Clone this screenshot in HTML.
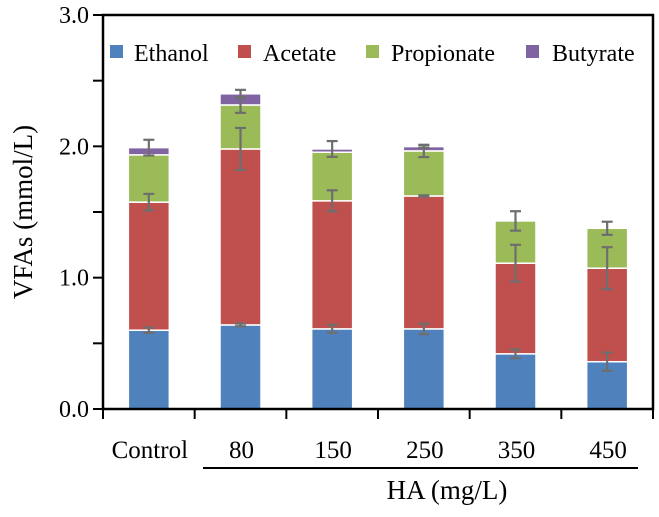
<!DOCTYPE html>
<html><head><meta charset="utf-8"><style>
html,body{margin:0;padding:0;background:#fff;}
svg{display:block;}
svg text{font-family:"Liberation Serif","Times New Roman","DejaVu Serif",serif;}
</style></head><body>
<svg id="chart" width="659" height="517" viewBox="0 0 659 517" style="position:absolute;left:0;top:0"></svg>
<script>
const categories = ["Control","80","150","250","350","450"];
const seriesNames = ["Ethanol","Acetate","Propionate","Butyrate"];
const ethanol = [0.60,0.64,0.61,0.61,0.42,0.36];
const acetate = [0.975,1.34,0.975,1.012,0.69,0.712];
const propionate = [0.36,0.335,0.37,0.343,0.322,0.304];
const butyrate = [0.055,0.085,0.025,0.033,0,0];
const ethanolErr = [0.02,0.01,0.03,0.04,0.033,0.07];
const acetateErr = [0.063,0.16,0.08,0.005,0.14,0.16];
const propionateErr = [0,0.06,0,0.047,0.074,0.05];
const butyrateErr = [0.06,0.03,0.06,0.01,0,0];
const yTicks = [0,0.5,1,1.5,2,2.5,3];
const yLabels = ["0.0","","1.0","","2.0","","3.0"];

const colors = ["#4f81bd","#c0504d","#9bbb59","#8064a2"];
const series = [ethanol,acetate,propionate,butyrate];
const errs = [ethanolErr,acetateErr,propionateErr,butyrateErr];
const X0=103, X1=653, Y0=409, Y1=15, YMAX=3;
const bandW=(X1-X0)/categories.length, barW=41;
const y = v => Y0 - v/YMAX*(Y0-Y1);
const xc = i => X0 + bandW*(i+0.5);
const svg=document.getElementById('chart');
const NS='http://www.w3.org/2000/svg';
function mk(tag,attrs,parent){const e=document.createElementNS(NS,tag);for(const k in attrs)e.setAttribute(k,attrs[k]);(parent||svg).appendChild(e);return e;}

categories.forEach((c,i)=>{
  let cum=0;
  series.forEach((s,k)=>{
    const v=s[i]; if(v<=0){return;}
    const r=mk('rect',{x:xc(i)-barW/2,y:y(cum+v),width:barW,height:y(cum)-y(cum+v),fill:colors[k],stroke:'#fff','stroke-width':1.5});
    
    
    cum+=v;
  });
});
categories.forEach((c,i)=>{
  let cum=0;
  series.forEach((s,k)=>{
    cum+=s[i];
    const e=errs[k][i]; if(e<=0||s[i]<=0)return;
    const g=mk('g',{stroke:'#6e6e6e','stroke-width':2.2});
    
    
    const x=xc(i);
    mk('line',{x1:x,x2:x,y1:y(cum-e),y2:y(cum+e)},g);
    mk('line',{x1:x-5.5,x2:x+5.5,y1:y(cum-e),y2:y(cum-e)},g);
    mk('line',{x1:x-5.5,x2:x+5.5,y1:y(cum+e),y2:y(cum+e)},g);
  });
});
const fr=mk('rect',{x:X0,y:Y1,width:X1-X0,height:Y0-Y1,fill:'none',stroke:'#000','stroke-width':2.5});


yTicks.forEach((t,j)=>{
  mk('line',{x1:X0-10,x2:X0,y1:y(t),y2:y(t),stroke:'#000','stroke-width':2});
  if(yLabels[j]){
    const tx=mk('text',{x:X0-14,y:y(t)+8,'text-anchor':'end','font-size':24,fill:'#000'});
    tx.textContent=yLabels[j];
    
    
  }
});
for(let i=0;i<=categories.length;i++){
  mk('line',{x1:X0+bandW*i,x2:X0+bandW*i,y1:Y0,y2:Y0+10,stroke:'#000','stroke-width':2});
}
categories.forEach((c,i)=>{
  const tx=mk('text',{x:xc(i)+1,y:458,'text-anchor':'middle','font-size':25,fill:'#000'});
  tx.textContent=c;
  
  
});
</script>
<svg width="659" height="517" style="position:absolute;left:0;top:0">
  <g>
    <line x1="203" y1="468" x2="638" y2="468" stroke="#000" stroke-width="2"/>
    <text x="447" y="499" text-anchor="middle" font-size="27">HA (mg/L)</text>
    <text transform="translate(32,212) rotate(-90)" text-anchor="middle" font-size="27">VFAs (mmol/L)</text>
    <g font-size="24">
      <rect x="110" y="45" width="13" height="13" fill="#4f81bd"/>
      <text x="134" y="61">Ethanol</text>
      <rect x="238" y="45" width="13" height="13" fill="#c0504d"/>
      <text x="263" y="61">Acetate</text>
      <rect x="366" y="45" width="13" height="13" fill="#9bbb59"/>
      <text x="391" y="61">Propionate</text>
      <rect x="526" y="45" width="13" height="13" fill="#8064a2"/>
      <text x="552" y="61">Butyrate</text>
    </g>
  </g>
</svg>
</body></html>
